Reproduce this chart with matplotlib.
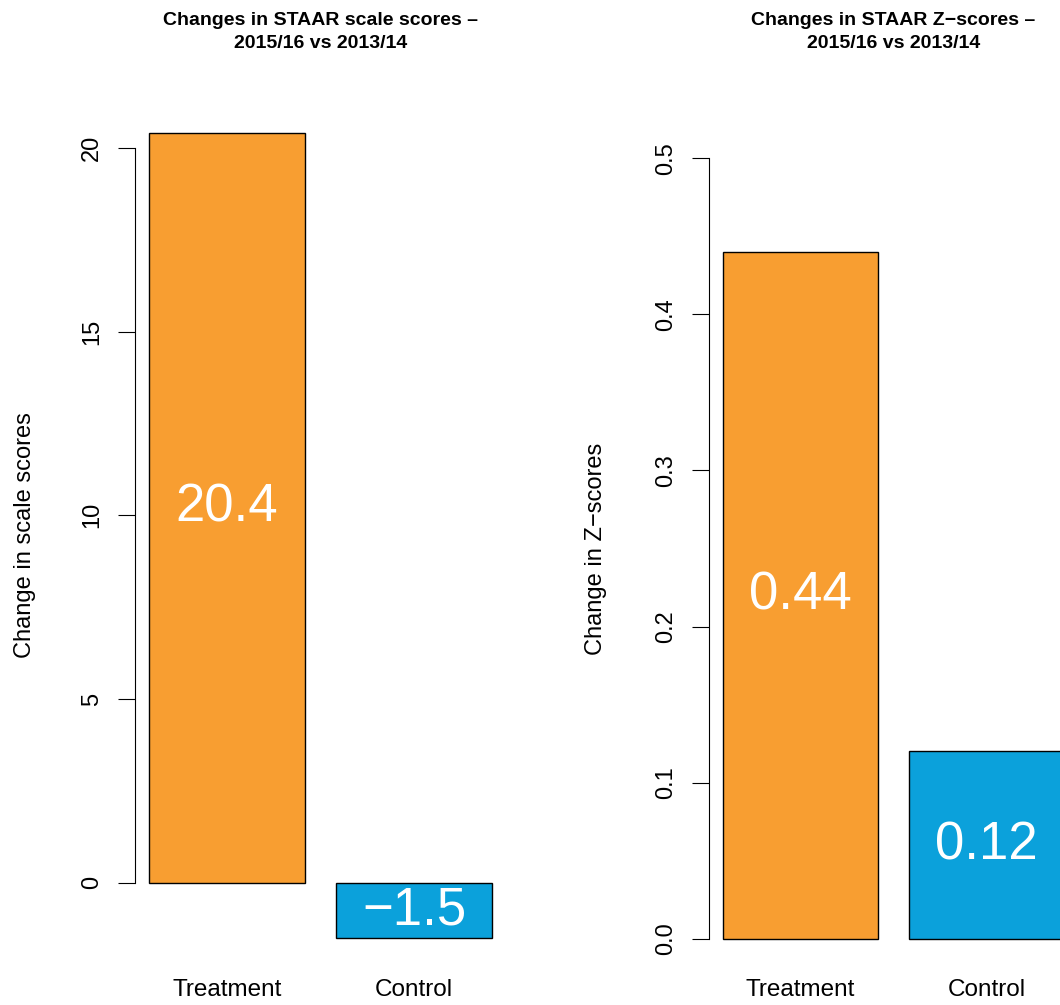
import matplotlib
matplotlib.use("Agg")
import matplotlib.pyplot as plt

groups = ["Treatment", "Control"]
scale_vals = [20.4, -1.5]
z_vals = [0.44, 0.12]
colors = ["#F89E31", "#0BA1DB"]
W, H = 1060, 1005

fig = plt.figure(figsize=(W/100, H/100), dpi=100)
plt.rcParams['font.family'] = ['Liberation Sans', 'DejaVu Sans']

def fmt(vals):
    return [("\u2212" + str(abs(v))) if v < 0 else str(v) for v in vals]

def panel(rect, vals, ylim, ticks, bounds, labels, ylabel, title, ylx):
    x0, y0, x1, y1 = rect
    ax = fig.add_axes([x0/W, 1-y1/H, (x1-x0)/W, (y1-y0)/H])
    pos = [0.7, 1.9]
    ax.bar(pos, vals, width=1.0, color=colors, edgecolor="black", linewidth=1)
    ax.set_xlim(0.112, 2.488)
    ax.set_ylim(*ylim)
    for s in ["top", "right", "bottom"]:
        ax.spines[s].set_visible(False)
    ax.spines["left"].set_bounds(*bounds)
    ax.set_yticks(ticks)
    ax.set_yticklabels(labels, rotation=90, va="center", fontsize=17)
    ax.tick_params(axis="y", length=12, pad=11)
    ax.set_xticks([])
    for p, g in zip(pos, groups):
        ax.text(p, 990/H, g, transform=fig.transFigure, ha="center", va="center", fontsize=17.5) if False else None
        fig.text(0, 0, "")
        ax.annotate(g, xy=(p, 0), xycoords=("data", "figure fraction"),
                    xytext=(0, 15), textcoords="offset pixels", ha="center", va="center", fontsize=17.5)
    for p, v, t in zip(pos, vals, fmt(vals)):
        ax.text(p, v/2, t, ha="center", va="center", color="white", fontsize=38)
    fig.text(ylx/W, 1-(y0+y1)/2/H, ylabel, rotation=90, ha="center", va="center", fontsize=17)
    fig.text((x0+x1)/2/W, 1-32/H, title, ha="center", va="center", fontsize=14,
             fontweight="bold", linespacing=1.5)
    return ax

panel((135, 101, 506, 970), scale_vals, (-2.376, 21.276), [0, 5, 10, 15, 20], (0, 20),
      ["0", "5", "10", "15", "20"], "Change in scale scores",
      "Changes in STAAR scale scores \u2013\n2015/16 vs 2013/14", 25)
panel((709, 127, 1078, 970), z_vals, (-0.02, 0.52), [0, 0.1, 0.2, 0.3, 0.4, 0.5], (0, 0.5),
      ["0.0", "0.1", "0.2", "0.3", "0.4", "0.5"], "Change in Z\u2212scores",
      "Changes in STAAR Z\u2212scores \u2013\n2015/16 vs 2013/14", 596)
fig.savefig("out.png", dpi=100)
